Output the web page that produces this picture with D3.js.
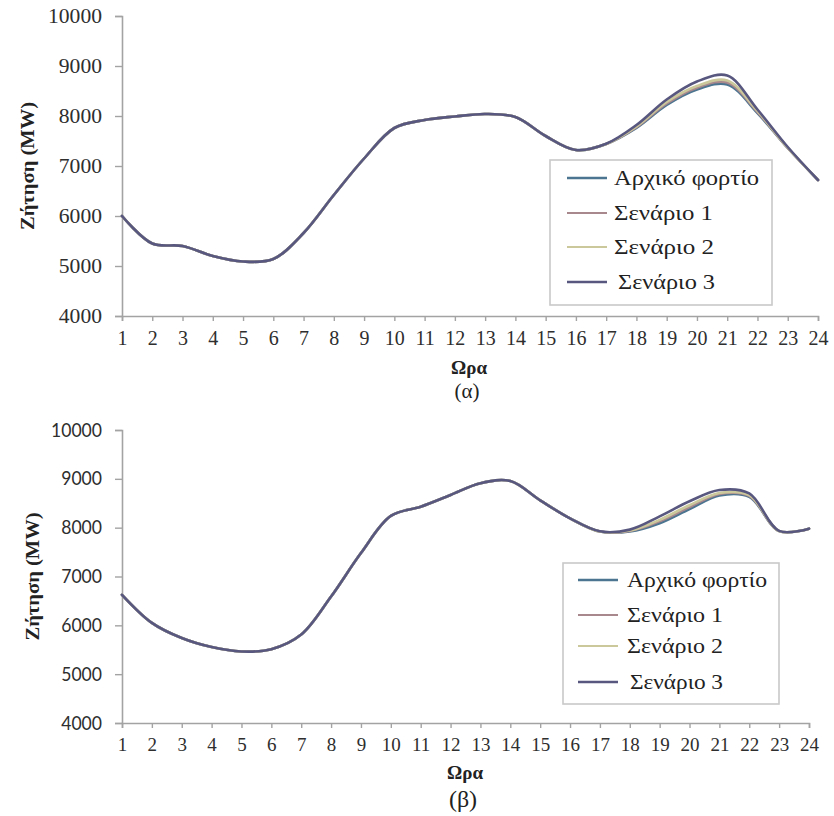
<!DOCTYPE html>
<html>
<head>
<meta charset="utf-8">
<script src="https://cdn.jsdelivr.net/npm/d3@7"></script>
<style>
  html, body { margin: 0; padding: 0; background: #fff; }
  svg { display: block; }
  svg text.serif { font-family: "Liberation Serif"; }
  svg text.sans { font-family: "Lato"; }
</style>
</head>
<body>
<svg id="chart" width="834" height="816"></svg>
<script>
// Hours of the day (x categories)
const hours = [1,2,3,4,5,6,7,8,9,10,11,12,13,14,15,16,17,18,19,20,21,22,23,24];
const yTicks = [4000,5000,6000,7000,8000,9000,10000];

// Series names shown in the legend
const seriesNames = ["Αρχικό φορτίο", "Σενάριο 1", "Σενάριο 2", "Σενάριο 3"];
const seriesColors = ["#4b7590", "#a8878d", "#cbc89c", "#58577f"];

// Panel (α): hourly demand, MW
const demandA_base = [6000,5450,5400,5200,5090,5140,5660,6420,7150,7760,7920,7990,8040,7980,7600,7320,7440,7760,8220,8530,8630,8060,7360,6720];
const demandA_s1   = [6000,5450,5400,5200,5090,5140,5660,6420,7150,7760,7920,7990,8040,7980,7600,7320,7440,7775,8250,8565,8670,8080,7360,6720];
const demandA_s2   = [6000,5450,5400,5200,5090,5140,5660,6420,7150,7760,7920,7990,8040,7980,7600,7320,7440,7790,8280,8600,8710,8100,7365,6720];
const demandA_s3   = [6000,5450,5400,5200,5090,5140,5660,6420,7150,7760,7920,7990,8040,7980,7600,7320,7445,7820,8330,8690,8810,8130,7380,6720];

// Panel (β): hourly demand, MW
const demandB_base = [6625,6050,5740,5555,5465,5510,5810,6590,7480,8240,8430,8670,8910,8955,8560,8190,7920,7920,8090,8380,8660,8630,7930,7980];
const demandB_s1   = [6625,6050,5740,5555,5465,5510,5810,6590,7480,8240,8430,8670,8910,8955,8560,8190,7920,7930,8130,8420,8690,8650,7930,7980];
const demandB_s2   = [6625,6050,5740,5555,5465,5510,5810,6590,7480,8240,8430,8670,8910,8955,8560,8190,7920,7940,8160,8460,8710,8665,7930,7980];
const demandB_s3   = [6625,6050,5740,5555,5465,5510,5810,6590,7480,8240,8430,8670,8910,8955,8560,8190,7925,7960,8230,8540,8770,8700,7935,7980];

const svg = d3.select("#chart");

function drawPanel(cfg) {
  const x = d3.scaleLinear().domain([1, 24]).range([cfg.x0, cfg.x1]);
  const y = d3.scaleLinear().domain([4000, 10000]).range([cfg.y0, cfg.y1]);
  const g = svg.append("g");

  // Y axis
  const yAxis = d3.axisLeft(y).tickValues(yTicks).tickSize(7).tickPadding(13).tickFormat(d3.format("d"));
  const ya = g.append("g").attr("transform", `translate(${cfg.x0},0)`).call(yAxis)
    .attr("font-family", null).attr("font-size", null);
  ya.select(".domain").attr("stroke", "#a3a3a3").attr("stroke-width", 1.6);
  ya.selectAll(".tick line").attr("stroke", "#a3a3a3").attr("stroke-width", 1.4);
  ya.selectAll(".tick text")
    .attr("class", cfg.yClass).attr("font-size", cfg.yFontSize)
    .attr("fill", "#2e2e2e").attr("lengthAdjust", "spacingAndGlyphs")
    .each(function(d) { d3.select(this).attr("textLength", String(d).length * cfg.yDigitW); });

  // X axis
  const xAxis = d3.axisBottom(x).tickValues(hours).tickSize(5).tickPadding(10).tickFormat(d3.format("d"));
  const xa = g.append("g").attr("transform", `translate(0,${cfg.y0})`).call(xAxis)
    .attr("font-family", null).attr("font-size", null);
  xa.select(".domain").attr("stroke", "#a3a3a3").attr("stroke-width", 1.6);
  xa.selectAll(".tick line").attr("stroke", "#a3a3a3").attr("stroke-width", 1.4);
  xa.selectAll(".tick text").attr("class", "serif").attr("font-size", cfg.xFontSize).attr("fill", "#2e2e2e");

  // Axis titles
  g.append("text").attr("class", "serif")
    .attr("transform", `translate(${cfg.yTitleX},${(cfg.y0 + cfg.y1) / 2}) rotate(-90)`)
    .attr("text-anchor", "middle").attr("dominant-baseline", "central")
    .attr("font-weight", "bold").attr("font-size", 19)
    .attr("textLength", 128).attr("lengthAdjust", "spacingAndGlyphs")
    .attr("fill", "#222").text("Ζήτηση (MW)");
  g.append("text").attr("class", "serif")
    .attr("x", cfg.titleX).attr("y", cfg.xTitleY).attr("text-anchor", "middle")
    .attr("font-weight", "bold").attr("font-size", 19)
    .attr("fill", "#222").text("Ωρα");
  g.append("text").attr("class", "serif")
    .attr("x", cfg.titleX - 2).attr("y", cfg.capY).attr("text-anchor", "middle")
    .attr("font-size", cfg.capSize)
    .attr("fill", "#222").text(cfg.caption);

  // Demand curves
  const line = d3.line().x((d, i) => x(hours[i])).y(d => y(d)).curve(d3.curveCatmullRom.alpha(0.5));
  cfg.series.forEach((s, k) => {
    g.append("path").datum(s).attr("fill", "none")
      .attr("stroke", seriesColors[k]).attr("stroke-width", 2.6)
      .attr("stroke-linejoin", "round").attr("stroke-linecap", "round")
      .attr("d", line);
  });

  // Legend
  const L = cfg.legend;
  g.append("rect").attr("x", L.x).attr("y", L.y).attr("width", L.w).attr("height", L.h)
    .attr("fill", "#fff").attr("stroke", "#c9c9c9").attr("stroke-width", 1.6);
  seriesNames.forEach((name, k) => {
    const ry = L.rows[k];
    g.append("line").attr("x1", L.lx0).attr("x2", L.lx1).attr("y1", ry).attr("y2", ry)
      .attr("stroke", seriesColors[k]).attr("stroke-width", k === 0 || k === 3 ? 2.6 : 1.8);
    g.append("text").attr("class", "serif").attr("x", L.tx[k]).attr("y", ry).attr("dominant-baseline", "central")
      .attr("font-size", 21).attr("fill", "#222")
      .attr("textLength", L.tw[k]).attr("lengthAdjust", "spacingAndGlyphs")
      .text(name);
  });
}

drawPanel({
  x0: 122, x1: 818, y0: 316, y1: 16,
  yClass: "serif", yFontSize: 20, yDigitW: 10.8, xFontSize: 20,
  yTitleX: 27, titleX: 469, xTitleY: 374, capY: 398, capSize: 21, caption: "(α)",
  series: [demandA_base, demandA_s1, demandA_s2, demandA_s3],
  legend: { x: 550, y: 160, w: 222, h: 145, lx0: 567, lx1: 607,
            rows: [178, 213, 247, 282], tx: [614, 614, 614, 618], tw: [145, 99, 100, 97] }
});

drawPanel({
  x0: 122, x1: 809, y0: 723, y1: 430,
  yClass: "sans", yFontSize: 19, yDigitW: 10.2, xFontSize: 19,
  yTitleX: 32, titleX: 465, xTitleY: 779, capY: 807, capSize: 24, caption: "(β)",
  series: [demandB_base, demandB_s1, demandB_s2, demandB_s3],
  legend: { x: 563, y: 563, w: 216, h: 141, lx0: 578, lx1: 618,
            rows: [580, 615, 646, 682], tx: [627, 627, 627, 630], tw: [140, 96, 96, 93] }
});
</script>
</body>
</html>
